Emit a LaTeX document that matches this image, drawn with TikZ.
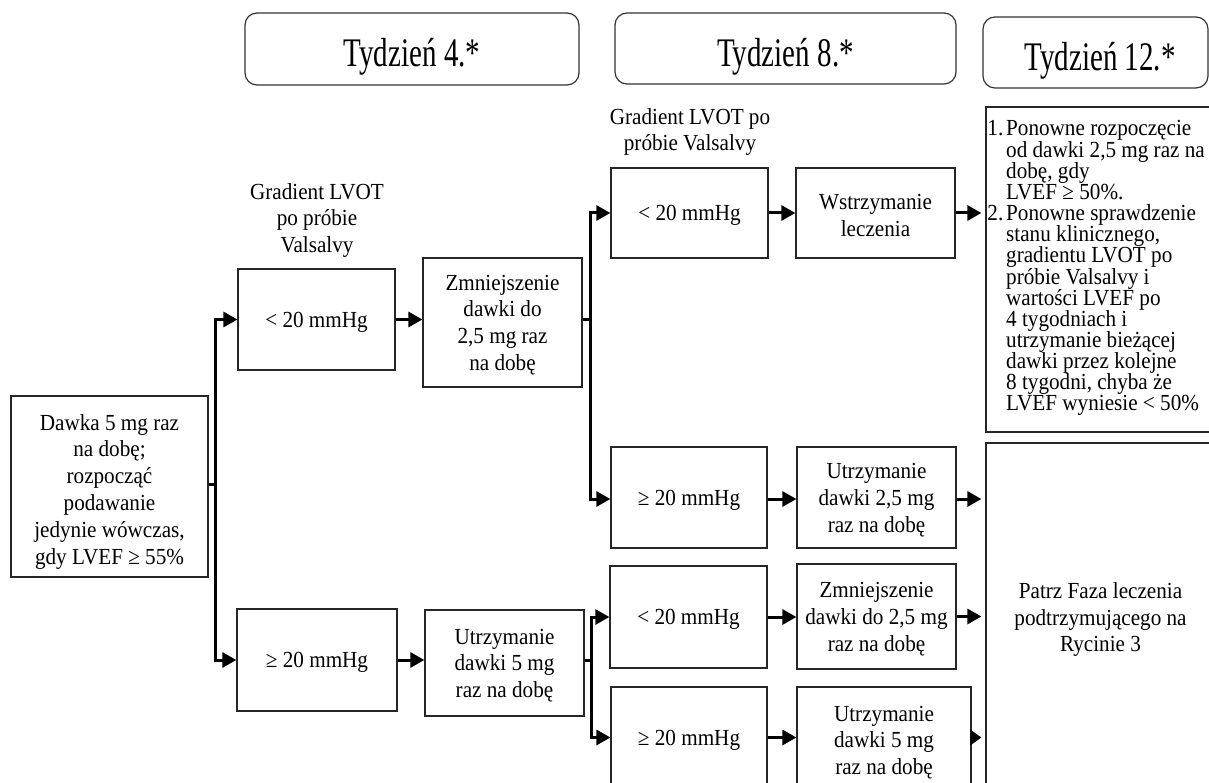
\documentclass[tikz,border=0pt]{standalone}
\usepackage{fontspec}
\setmainfont{Liberation Serif}
\newfontfamily\tfont{Liberation Serif}[FakeStretch=0.92]
\usetikzlibrary{arrows.meta,calc}
% \mybox{name}{x}{y}{width}{height}{text}
\newcommand\mybox[6]{%
  \node[box, minimum width=#4pt, minimum height=#5pt] (#1) at (#2,#3) {};
  \node[txt] (#1t) at ($(#1)+(0,2.5)$) {#6};}
\begin{document}
\begin{tikzpicture}[x=1pt,y=-1pt,
  box/.style={draw=black!85, line width=1.2pt, inner sep=0pt},
  hdr/.style={draw=black!80, line width=1.2pt, rounded corners=12pt, inner sep=0pt},
  hdrtxt/.style={inner sep=0pt},
  txt/.style={inner sep=0pt, align=center, font=\tfont\fontsize{23}{26.8}\selectfont},
  conn/.style={line width=3pt, -{Triangle[length=14pt,width=15pt]}},
]
\useasboundingbox (0,0) rectangle (1209,783);
\clip (0,0) rectangle (1209,783);

% headers
\node[hdr, minimum width=334pt, minimum height=72pt] (H1) at (412,49) {};
\node[hdr, minimum width=341pt, minimum height=71pt] (H2) at (785.5,48.5) {};
\node[hdr, minimum width=225pt, minimum height=71pt] (H3) at (1095.5,52.5) {};
\node[hdrtxt] (H1t) at (412,57) {\scalebox{1}[1.4]{\fontsize{29}{30}\selectfont Tydzień 4.*}};
\node[hdrtxt] (H2t) at (785.5,57) {\scalebox{1}[1.4]{\fontsize{29}{30}\selectfont Tydzień 8.*}};
\node[hdrtxt] (H3t) at (1100,61) {\scalebox{1}[1.4]{\fontsize{29}{30}\selectfont Tydzień 12.*}};

% labels
\node[txt, font=\tfont\fontsize{23}{26.5}\selectfont] (L1) at (317,220.5) {Gradient LVOT\\po próbie\\Valsalvy};
\node[txt, font=\tfont\fontsize{23}{26}\selectfont] (L2) at (690,132) {Gradient LVOT po\\próbie Valsalvy};

% boxes
\node[box, minimum width=197pt, minimum height=181pt] (D) at (109.5,486.5) {};
\node[txt] (Dt) at (109.5,491.5) {Dawka 5 mg raz\\na dobę;\\rozpocząć\\podawanie\\jedynie wówczas,\\gdy LVEF ≥ 55\%};
\mybox{A1}{316.5}{319.5}{157}{101}{< 20 mmHg}
\mybox{AL}{317}{660}{160}{102}{≥ 20 mmHg}
\mybox{B1}{502.5}{322.5}{159}{129}{Zmniejszenie\\dawki do\\2,5 mg raz\\na dobę}
\mybox{C1}{504.5}{663}{159}{106}{Utrzymanie\\dawki 5 mg\\raz na dobę}
\mybox{A2}{689.5}{213}{157}{90}{< 20 mmHg}
\mybox{B2}{875.5}{213}{159}{90}{Wstrzymanie\\leczenia}
\mybox{A3}{689}{497.5}{156}{101}{≥ 20 mmHg}
\mybox{B3}{876.5}{497.5}{159}{101}{Utrzymanie\\dawki 2,5 mg\\raz na dobę}
\mybox{A4}{688.5}{617}{157}{102}{< 20 mmHg}
\mybox{B4}{876.5}{616.5}{159}{105}{Zmniejszenie\\dawki do 2,5 mg\\raz na dobę}
\mybox{A5}{689}{737.5}{156}{101}{≥ 20 mmHg}
\mybox{B5}{884}{740}{174}{106}{Utrzymanie\\dawki 5 mg\\raz na dobę}
\mybox{R2}{1100.5}{617}{229}{348}{Patrz Faza leczenia\\podtrzymującego na\\Rycinie 3}
\node[box, minimum width=229pt, minimum height=325pt] (R1) at (1100.5,269.5) {};

% right upper text
\node[inner sep=0pt, anchor=base east, font=\tfont\fontsize{23}{21.15}\selectfont] (N1) at (1003.5,136) {1.};
\node[inner sep=0pt, anchor=base east, font=\tfont\fontsize{23}{21.15}\selectfont] (N2) at (1003.5,220.6) {2.};
\node[inner sep=0pt, anchor=base west] (R1t) at (1006,136)
  {\parbox[t]{205pt}{\tfont\fontsize{23}{21.15}\selectfont\lineskiplimit=-50pt\raggedright
   Ponowne rozpoczęcie\\
   od dawki 2,5 mg raz na\\
   dobę, gdy\\
   LVEF ≥ 50\%.\\
   Ponowne sprawdzenie\\
   stanu klinicznego,\\
   gradientu LVOT po\\
   próbie Valsalvy i\\
   wartości LVEF po\\
   4 tygodniach i\\
   utrzymanie bieżącej\\
   dawki przez kolejne\\
   8 tygodni, chyba że\\
   LVEF wyniesie < 50\%}};

% connectors
\draw[conn] ($(D.east)+(0,-2.5)$) -- ++(7,0) |- (A1.west);
\draw[conn] ($(D.east)+(0,-2.5)$) -- ++(7,0) |- (AL.west);
\draw[conn] (A1.east) -- (A1.east -| B1.west);
\draw[conn] (AL.east) -- (AL.east -| C1.west);
\draw[conn] ($(B1.east)+(0,-2.5)$) -- ++(8,0) |- (A2.west);
\draw[conn] ($(B1.east)+(0,-2.5)$) -- ++(8,0) |- ($(A3.west)+(0,1.5)$);
\draw[conn] ($(C1.east)+(0,-2.5)$) -- ++(7,0) |- (A4.west);
\draw[conn] ($(C1.east)+(0,-2.5)$) -- ++(7,0) |- (A5.west);
\draw[conn] (A2.east) -- (A2.east -| B2.west);
\draw[conn, shorten >=4pt] (B2.east) -- (B2.east -| R1.west);
\draw[conn] ($(A3.east)+(0,1.5)$) -- ($(A3.east -| B3.west)+(0,1.5)$);
\draw[conn, shorten >=4pt] ($(B3.east)+(0,1.5)$) -- ($(B3.east -| R2.west)+(0,1.5)$);
\draw[conn] (A4.east) -- (A4.east -| B4.west);
\draw[conn, shorten >=4pt] (B4.east) -- (B4.east -| R2.west);
\draw[conn] (A5.east) -- (A5.east -| B5.west);
\draw[line width=3pt, -{Triangle[length=11pt,width=15pt]}, shorten >=4pt] (A5.east -| B5.east) -- (A5.east -| R2.west);
\end{tikzpicture}
\end{document}
